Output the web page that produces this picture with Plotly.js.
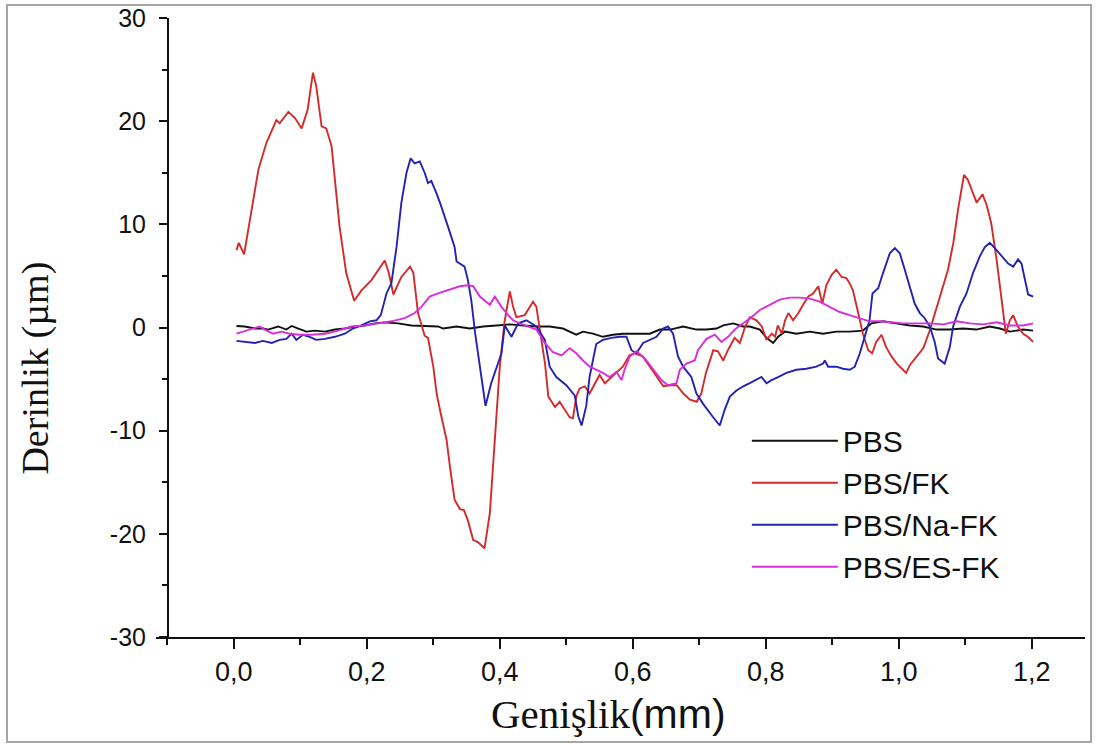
<!DOCTYPE html>
<html>
<head>
<meta charset="utf-8">
<script src="https://cdn.plot.ly/plotly-3.0.1.min.js"></script>
<style>html,body{margin:0;padding:0;background:#fff;}#chart{width:1097px;height:745px;}</style>
</head>
<body>
<div id="chart"></div>
<script>
// ---- Data ----
const seriesNames = ["PBS", "PBS/FK", "PBS/Na-FK", "PBS/ES-FK"];

const pbsX = [0.004,0.0165,0.0316,0.044,0.0516,0.0667,0.079,0.087,0.097,0.109,0.122,0.137,0.152,0.167,0.182,0.197,0.212,0.227,0.247,0.267,0.287,0.307,0.315,0.335,0.355,0.375,0.395,0.415,0.435,0.455,0.475,0.495,0.505,0.515,0.525,0.540,0.555,0.570,0.585,0.6055,0.6256,0.6406,0.656,0.6757,0.6957,0.7108,0.726,0.736,0.751,0.766,0.776,0.791,0.801,0.811,0.8185,0.8286,0.846,0.866,0.886,0.906,0.926,0.946,0.959,0.9765,0.9965,1.0166,1.0366,1.0566,1.0767,1.0967,1.1168,1.1368,1.152,1.167,1.187,1.202];
const pbsY = [0.15,0.1,-0.1,-0.1,-0.2,0.1,-0.2,0.15,-0.1,-0.4,-0.3,-0.4,-0.2,-0.1,0.1,0.2,0.4,0.5,0.4,0.2,0.15,0.1,-0.1,0.1,-0.1,0.1,0.2,0.3,0.2,0.1,0.1,-0.1,-0.4,-0.7,-0.4,-0.6,-0.9,-0.7,-0.6,-0.6,-0.6,-0.2,-0.2,0.1,-0.2,-0.2,-0.1,0.2,0.4,0.1,0.1,-0.2,-1.0,-1.5,-0.9,-0.4,-0.6,-0.4,-0.6,-0.4,-0.4,-0.3,0.4,0.6,0.4,0.2,0.1,-0.2,-0.2,-0.1,-0.2,0.1,-0.1,-0.4,-0.2,-0.3];

const fkX = [0.004,0.0075,0.0155,0.027,0.037,0.049,0.064,0.069,0.082,0.092,0.102,0.111,0.119,0.124,0.132,0.139,0.147,0.159,0.169,0.181,0.192,0.207,0.220,0.227,0.233,0.240,0.252,0.265,0.270,0.277,0.287,0.292,0.300,0.305,0.310,0.320,0.325,0.332,0.340,0.346,0.352,0.360,0.367,0.377,0.385,0.392,0.400,0.407,0.415,0.420,0.425,0.4375,0.450,0.455,0.460,0.468,0.473,0.483,0.490,0.498,0.505,0.510,0.515,0.520,0.528,0.535,0.543,0.550,0.558,0.568,0.575,0.585,0.595,0.603,0.615,0.626,0.636,0.646,0.656,0.666,0.676,0.686,0.696,0.703,0.710,0.716,0.721,0.728,0.736,0.743,0.753,0.761,0.768,0.776,0.786,0.794,0.801,0.809,0.814,0.818,0.824,0.829,0.834,0.841,0.849,0.856,0.864,0.871,0.879,0.885,0.891,0.899,0.906,0.914,0.921,0.926,0.931,0.939,0.946,0.954,0.960,0.966,0.974,0.981,0.989,0.997,1.004,1.011,1.017,1.027,1.037,1.047,1.057,1.067,1.074,1.082,1.089,1.098,1.104,1.117,1.126,1.132,1.139,1.147,1.154,1.161,1.167,1.172,1.179,1.187,1.194,1.202];
const fkY = [7.5,8.2,7.1,11.4,15.3,17.9,20.1,19.8,20.9,20.3,19.3,21.1,24.7,23.4,19.5,19.3,17.6,9.8,5.3,2.6,3.6,4.6,5.9,6.5,5.3,3.2,4.9,5.9,5.3,1.4,-0.8,-1.0,-3.8,-6.4,-8.0,-10.9,-13.5,-16.7,-17.6,-17.7,-18.7,-20.6,-20.8,-21.4,-18.0,-10.9,-3.8,0.5,3.5,2.0,1.0,1.2,2.5,2.0,-0.2,-3.5,-6.7,-7.7,-7.2,-8.0,-8.7,-8.8,-6.7,-5.9,-5.7,-6.4,-5.4,-4.6,-5.4,-4.8,-4.4,-3.8,-2.7,-2.5,-2.8,-3.8,-4.8,-5.7,-5.6,-5.6,-6.4,-7.0,-7.2,-6.4,-4.4,-3.2,-2.2,-2.3,-3.2,-2.2,-1.0,-1.5,-0.1,1.0,0.7,0.1,-1.2,-0.6,-0.9,0.2,-0.6,0.7,1.4,0.7,1.4,2.2,3.0,3.3,4.0,2.3,4.1,5.1,5.6,4.9,4.8,4.3,3.6,1.4,-0.6,-2.2,-2.5,-1.4,-0.7,-1.9,-2.8,-3.5,-4.0,-4.4,-3.6,-2.8,-2.0,-0.2,2.0,4.0,5.6,8.2,11.4,14.8,14.3,12.1,12.9,11.9,10.1,6.6,2.7,-0.6,0.7,1.2,0.1,-0.6,-0.9,-1.4];

const naX = [0.004,0.0165,0.0316,0.044,0.057,0.069,0.079,0.087,0.094,0.104,0.114,0.124,0.137,0.152,0.167,0.179,0.192,0.2045,0.2145,0.221,0.2296,0.237,0.2447,0.252,0.2597,0.266,0.272,0.2797,0.287,0.292,0.297,0.3048,0.310,0.322,0.332,0.335,0.347,0.352,0.357,0.363,0.370,0.3785,0.387,0.395,0.4025,0.4075,0.4175,0.4276,0.440,0.455,0.4677,0.475,0.485,0.500,0.5128,0.518,0.523,0.530,0.535,0.540,0.545,0.555,0.568,0.580,0.5905,0.598,0.6055,0.6155,0.6256,0.6356,0.6456,0.653,0.6606,0.668,0.6757,0.688,0.6957,0.7057,0.7208,0.7308,0.738,0.7459,0.7559,0.766,0.776,0.786,0.7935,0.801,0.8086,0.8185,0.831,0.846,0.861,0.876,0.886,0.8887,0.8937,0.906,0.9162,0.9263,0.9338,0.9414,0.949,0.956,0.9604,0.969,0.9764,0.9865,0.994,1.0015,1.009,1.0166,1.024,1.0316,1.039,1.0466,1.054,1.059,1.069,1.0767,1.0817,1.0917,1.1018,1.1117,1.1218,1.1293,1.1368,1.1444,1.1544,1.1644,1.172,1.1794,1.1845,1.1895,1.1945,1.202];
const naY = [-1.3,-1.4,-1.5,-1.3,-1.5,-1.2,-1.1,-0.6,-1.2,-0.7,-0.9,-1.2,-1.1,-0.9,-0.6,-0.1,0.2,0.6,0.7,1.2,3.3,4.3,7.8,12.1,15.0,16.4,15.9,16.1,15.0,14.0,14.2,13.0,12.1,9.8,7.8,6.4,5.9,4.6,2.7,-0.6,-3.8,-7.6,-5.4,-3.8,-2.5,0.2,-0.9,0.4,0.7,0.1,-1.2,-3.8,-4.8,-5.6,-6.6,-8.6,-9.5,-7.6,-4.8,-3.2,-1.6,-1.2,-1.0,-0.9,-0.9,-2.2,-2.5,-1.5,-1.2,-0.9,-0.1,0.1,-0.6,-2.8,-3.8,-4.8,-6.4,-7.4,-8.7,-9.5,-8.0,-6.7,-6.1,-5.7,-5.4,-5.1,-4.8,-5.4,-5.1,-4.8,-4.4,-4.1,-4.0,-3.8,-3.5,-3.2,-3.8,-3.8,-4.0,-4.1,-3.8,-2.5,-0.9,0.7,3.3,3.8,5.3,7.2,7.7,7.2,5.6,4.0,2.3,1.4,0.9,0.1,-1.4,-3.0,-3.5,-1.9,0.1,2.0,3.3,5.3,6.9,7.8,8.2,7.7,6.9,6.2,5.9,6.6,6.2,4.6,3.2,3.0];

const esX = [0.004,0.014,0.0266,0.039,0.0466,0.059,0.0717,0.084,0.099,0.1168,0.137,0.157,0.177,0.197,0.217,0.237,0.257,0.272,0.282,0.2947,0.307,0.32,0.34,0.352,0.36,0.37,0.385,0.3925,0.4025,0.4125,0.42,0.43,0.445,0.455,0.4677,0.48,0.4928,0.505,0.515,0.525,0.5353,0.545,0.555,0.565,0.5755,0.583,0.588,0.5955,0.6056,0.618,0.6306,0.643,0.653,0.6657,0.6707,0.6807,0.6932,0.698,0.7108,0.7233,0.7333,0.7433,0.7534,0.766,0.7785,0.791,0.806,0.821,0.836,0.851,0.866,0.881,0.896,0.911,0.926,0.941,0.956,0.971,0.986,1.0065,1.0266,1.0466,1.067,1.087,1.107,1.127,1.147,1.167,1.187,1.202];
const esY = [-0.6,-0.4,-0.2,0.1,-0.2,-0.6,-0.4,-0.6,-0.7,-0.7,-0.6,-0.3,0.1,0.2,0.4,0.6,0.9,1.4,2.0,3.0,3.3,3.6,4.0,4.1,4.0,3.0,2.2,3.0,2.0,1.2,0.7,0.4,0.0,-0.2,-1.5,-2.4,-2.7,-2.0,-2.5,-3.2,-3.8,-4.1,-4.4,-4.8,-4.3,-5.1,-4.0,-2.8,-2.3,-3.0,-4.1,-5.1,-5.6,-5.4,-4.1,-3.5,-3.2,-2.2,-1.1,-0.7,-1.4,-0.9,-0.2,0.4,1.0,1.7,2.2,2.7,2.9,2.9,2.8,2.5,2.0,1.5,1.2,0.9,0.6,0.6,0.5,0.4,0.4,0.4,0.3,0.6,0.4,0.3,0.5,0.2,0.2,0.4];

// Tick labels and titles
const yTickVals = [-30, -20, -10, 0, 10, 20, 30];
const yTickText = ['-30', '-20', '-10', '0', '10', '20', '30'];
const xTitle = 'Genişlik';
const xUnit = '(mm)';
const yTitle = 'Derinlik (µm)';

// ---- Styles ----
const colors = ['#111111', '#d42a2a', '#2323b3', '#d92ed9'];
const xs = [pbsX, fkX, naX, esX];
const ys = [pbsY, fkY, naY, esY];

const traces = seriesNames.map((name, i) => ({
  type: 'scatter', mode: 'lines', name: name,
  x: xs[i], y: ys[i],
  line: {color: colors[i], width: 1.9}
}));

const narrow = '"Liberation Sans Narrow", "Arial Narrow", Arial, sans-serif';
const serif = '"Liberation Serif", "Times New Roman", serif';

const layout = {
  width: 1097, height: 745,
  margin: {l: 156, r: 12, t: 18, b: 108},
  paper_bgcolor: '#ffffff', plot_bgcolor: '#ffffff',
  separators: ',.',
  showlegend: true,
  legend: {x: 0.636, y: 0.359, xanchor: 'left', yanchor: 'top',
           bgcolor: 'rgba(0,0,0,0)', itemwidth: 86,
           font: {family: 'Arial, "Liberation Sans", sans-serif', size: 30, color: '#111'}},
  xaxis: {
    range: [-0.117, 1.28], tick0: 0, dtick: 0.2, tickformat: '.1f',
    ticks: 'outside', ticklen: 10, tickwidth: 2, tickcolor: '#111',
    showline: true, linecolor: '#111', linewidth: 2,
    showgrid: false, zeroline: false,
    minor: {dtick: 0.1, tick0: 0.1, ticks: 'outside', ticklen: 6, tickwidth: 2, tickcolor: '#111', showgrid: false},
    tickfont: {family: narrow, size: 27, color: '#111'}
  },
  yaxis: {
    range: [-30, 30], tickmode: 'array', tickvals: yTickVals, ticktext: yTickText,
    anchor: 'free', position: 0.0129,
    ticks: 'outside', ticklen: 8, tickwidth: 2, tickcolor: '#111',
    showline: true, linecolor: '#111', linewidth: 2,
    showgrid: false, zeroline: false,
    minor: {dtick: 5, tick0: 0, ticks: 'outside', ticklen: 5, tickwidth: 2, tickcolor: '#111', showgrid: false},
    tickfont: {family: 'Arial, "Liberation Sans", sans-serif', size: 25, color: '#111'},
    ticklabelstandoff: 8
  },
  annotations: [
    {
      text: yTitle, textangle: -90, showarrow: false,
      xref: 'paper', yref: 'paper', x: -0.130, y: 0.434, xanchor: 'center', yanchor: 'middle',
      font: {family: serif, size: 38, color: '#111'}
    },
    {
      text: xTitle + "<span style=\"font-family:'Liberation Sans Narrow',sans-serif\">" + xUnit + '</span>',
      showarrow: false, xref: 'paper', yref: 'paper', x: 0.487, y: -0.084,
      xanchor: 'center', yanchor: 'top',
      font: {family: serif, size: 41, color: '#111'}
    }
  ],
  shapes: [{type: 'rect', xref: 'paper', yref: 'paper', x0: -0.1604, x1: 1.0065, y0: -0.1696, y1: 1.021,
            line: {color: '#a6a6a6', width: 2}, fillcolor: 'rgba(0,0,0,0)', layer: 'below'}]
};

Plotly.newPlot('chart', traces, layout, {displayModeBar: false, staticPlot: true});
</script>
</body>
</html>
